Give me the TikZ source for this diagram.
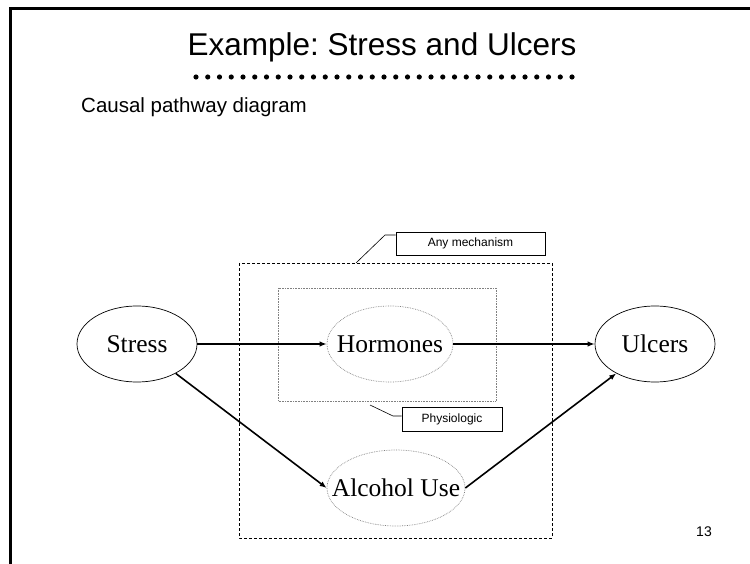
\documentclass[tikz,border=0pt]{standalone}
\usepackage{fontspec}
\setmainfont{Liberation Serif}
\newfontfamily\arial{Liberation Sans}
\usetikzlibrary{shapes.geometric,arrows.meta}
\frenchspacing
\begin{document}
\begin{tikzpicture}[x=1pt,y=-1pt,
  solidell/.style={ellipse,draw=black,line width=0.7pt,inner sep=0pt,font=\fontsize{25.5}{30}\selectfont},
  dotell/.style={ellipse,draw=gray,densely dotted,line width=0.7pt,inner sep=0pt,font=\fontsize{25.5}{30}\selectfont},
  arr/.style={line width=1.6pt,-{Latex[length=7pt,width=5.5pt]}},
  lbl/.style={draw=black,line width=0.6pt,inner sep=0pt,font=\arial\fontsize{12}{14}\selectfont},
  call/.style={line width=0.6pt}]
\useasboundingbox (0,0) rectangle (750,564);
% slide frame
\draw[line width=3pt] (10.5,564) -- (10.5,9) -- (750,9);
% title
\node[font=\arial\fontsize{31.5}{36}\selectfont,anchor=base] (title) at (382,56) {Example: Stress and Ulcers};
\foreach \i in {0,...,32} \fill (196+\i*11.75,77) circle (2.6pt);
\node[font=\arial\fontsize{20.5}{24}\selectfont,anchor=base west,inner sep=0pt] (sub) at (81,113) {Causal pathway diagram};
% boxes
\draw[line width=0.7pt,dash pattern=on 3pt off 2pt] (239,263) rectangle (552,538);
\draw[gray,densely dotted,line width=0.6pt] (278,288) rectangle (496,401);
% ellipses
\node[solidell,minimum width=120pt,minimum height=76pt] (stress) at (137,344) {\makebox[0pt]{Stress}};
\node[solidell,minimum width=120pt,minimum height=76pt] (ulcers) at (655,344) {\makebox[0pt]{Ulcers}};
\node[dotell,minimum width=126pt,minimum height=76pt] (horm) at (390,344) {\makebox[0pt]{Hormones}};
\node[dotell,minimum width=138pt,minimum height=76pt] (alc) at (396,488) {\makebox[0pt]{Alcohol Use}};
% arrows
\draw[arr] (stress) -- (horm);
\draw[arr] (horm) -- (ulcers);
\draw[arr] (stress) -- (alc.west);
\draw[arr] (alc.east) -- (ulcers);
% labels
\node[lbl,minimum width=149pt,minimum height=23pt] (any) at (470.5,243.5) {Any mechanism};
\coordinate (a1) at (356,263);
\coordinate (a2) at (385,235);
\draw[call] (a1) -- (a2) -- (a2 -| any.west);
\node[lbl,minimum width=100pt,minimum height=24pt] (phys) at (452,419) {Physiologic};
\coordinate (p1) at (370,405);
\coordinate (p2) at (393,416);
\draw[call] (p1) -- (p2) -- (p2 -| phys.west);
% page number
\node[font=\arial\fontsize{14}{16}\selectfont] (num) at (704,532) {13};
\end{tikzpicture}
\end{document}
